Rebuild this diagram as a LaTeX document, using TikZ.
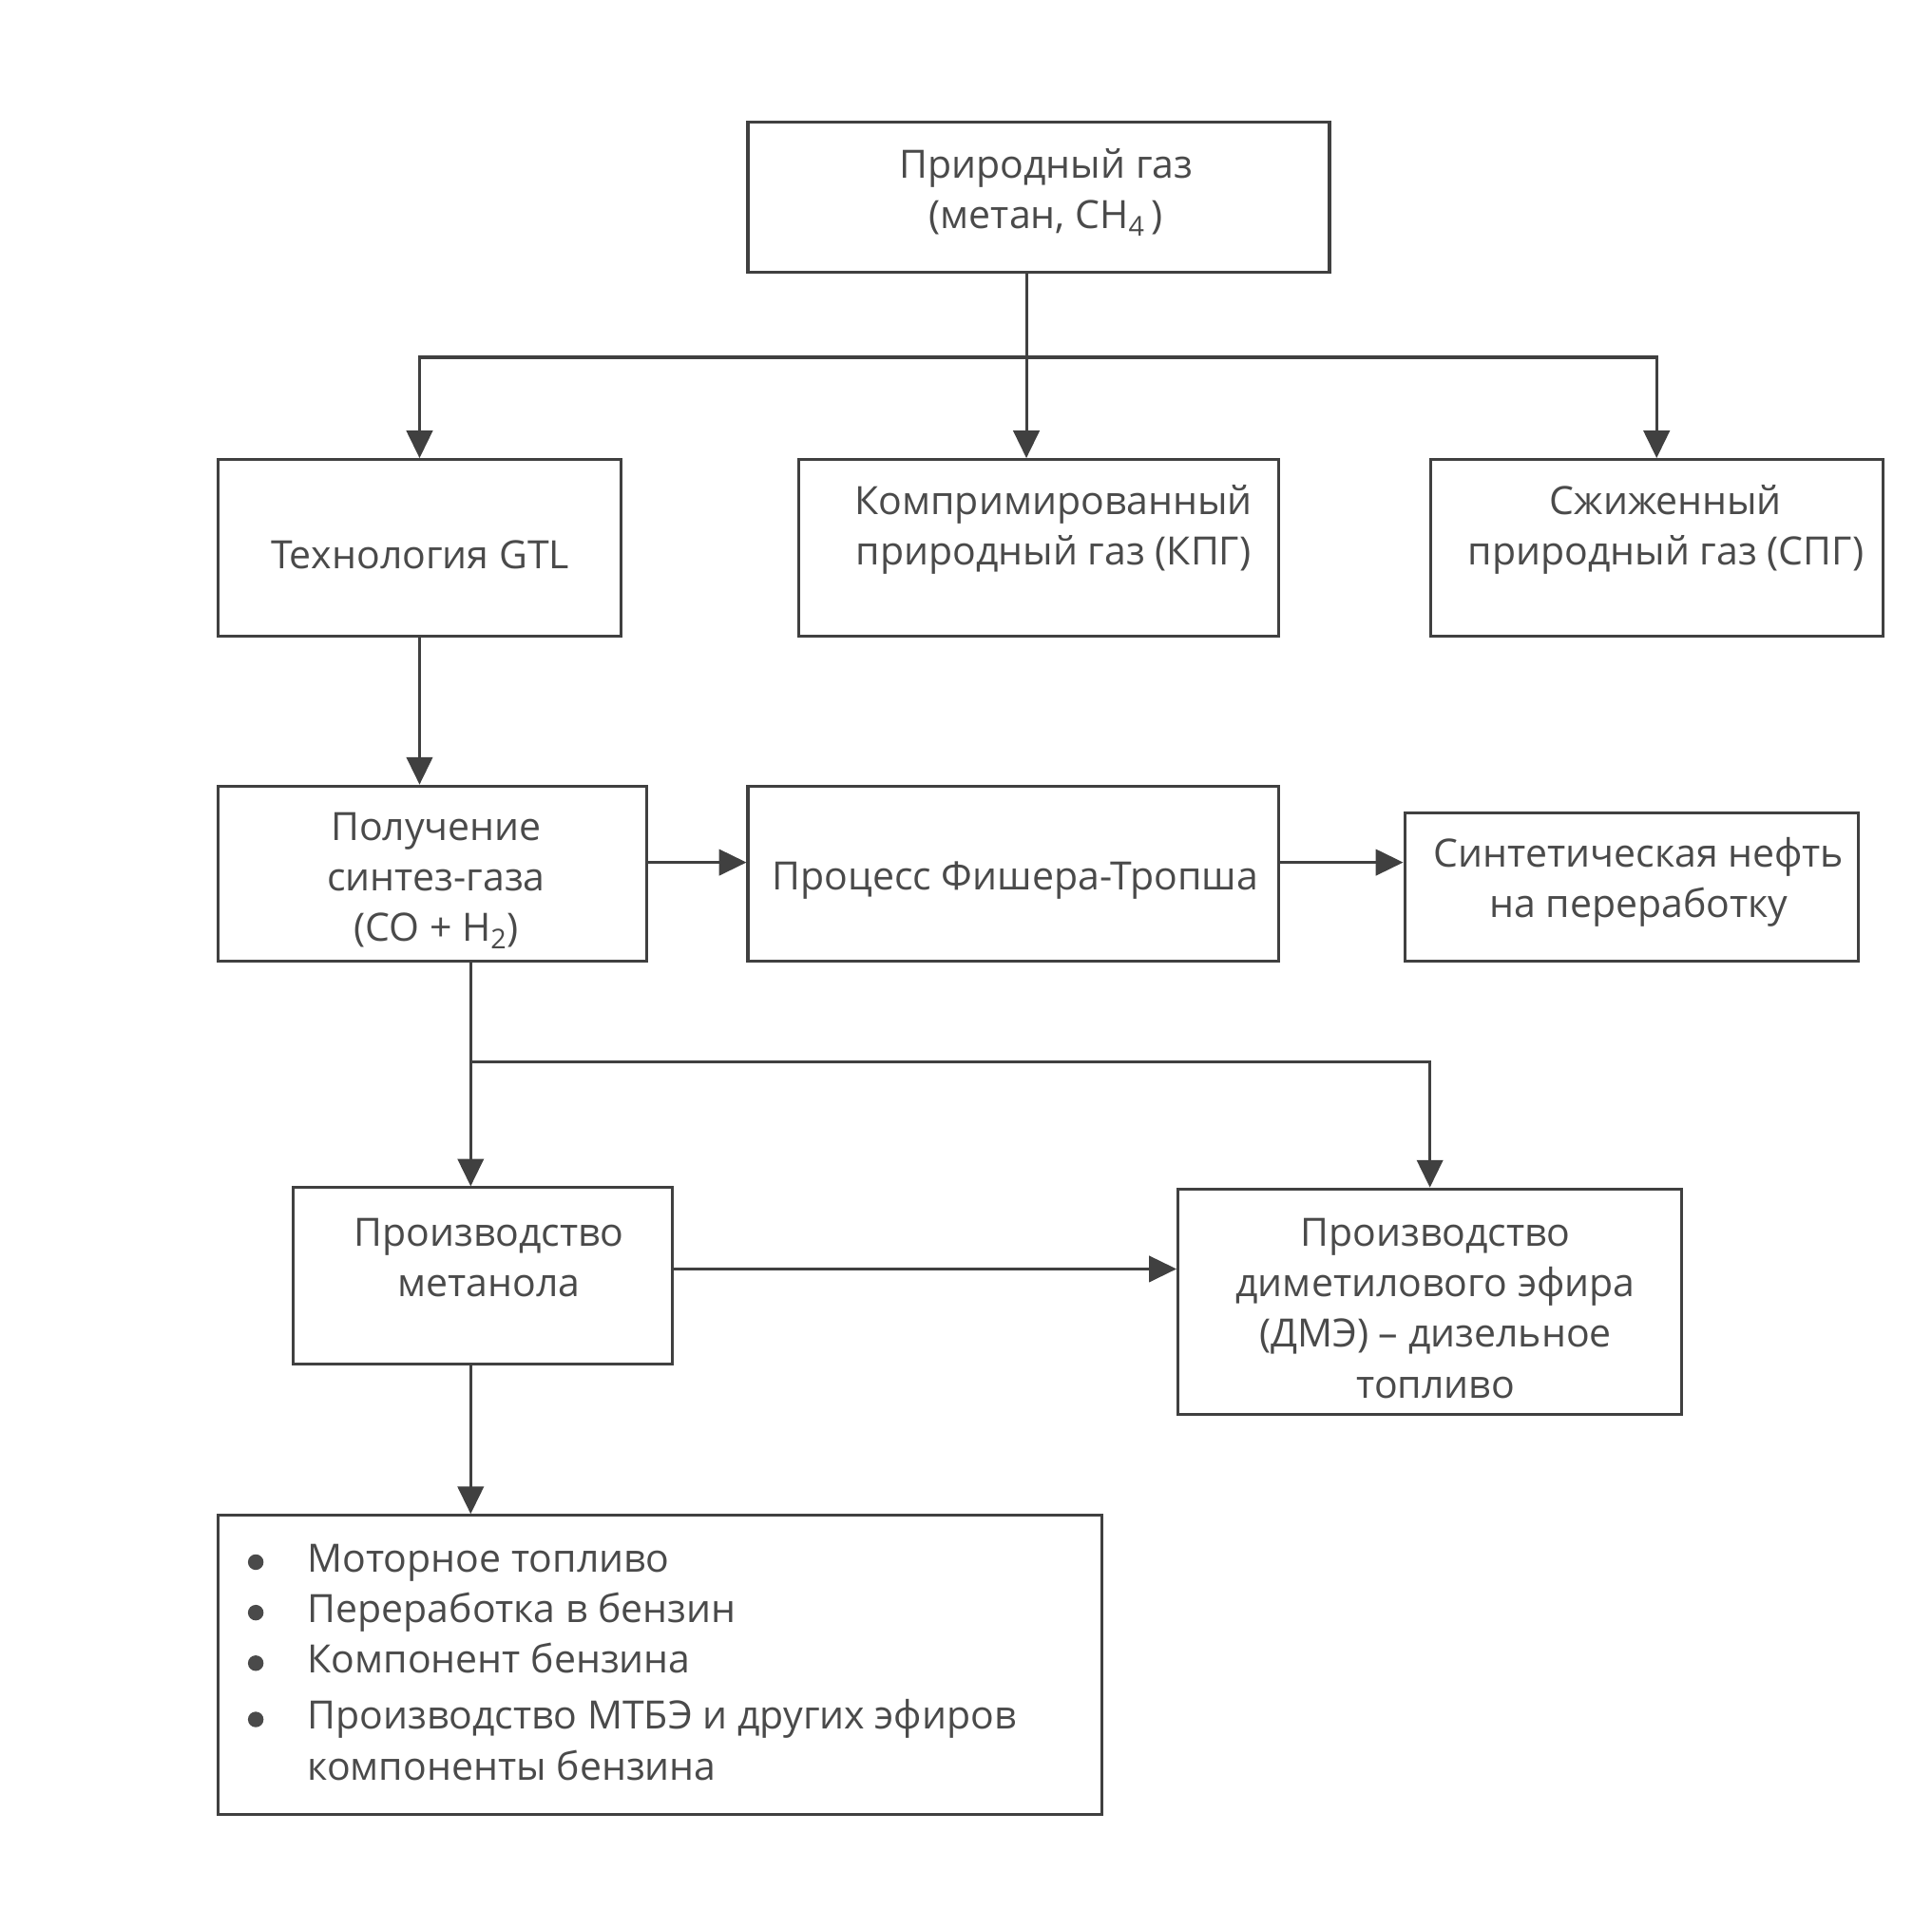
\documentclass[tikz,border=0pt]{standalone}
\usepackage{fontspec}
\setmainfont{Open Sans}
\usetikzlibrary{arrows.meta}
\definecolor{ink}{HTML}{4A4A4A}
\definecolor{lineink}{HTML}{404040}
\newcommand\bdot{\tikz[baseline={(0,-2.4mm)}]\fill[ink] (0,0) circle (1.9mm);}
\tikzset{
  box/.style={draw=lineink, line width=2pt, inner sep=0pt, fill=none},
  wh/.style 2 args={minimum width=#1*0.3mm, minimum height=#2*0.3mm},
  txt/.style={text=ink, align=center, inner sep=0pt, font=\fontsize{27}{35}\selectfont},
  arr/.style={draw=lineink, line width=2pt, -{Triangle[length=19pt,width=18pt]}},
  conn/.style={draw=lineink, line width=2pt}
}
\begin{document}
\begin{tikzpicture}[x=0.3mm, y=-0.3mm]
\useasboundingbox (0,0) rectangle (1568,1549);
\fill[white] (0,0) rectangle (1568,1549);

% boxes
\node[box, wh={472}{122}] (top) at (843,160) {};
\node[box, wh={327}{143}] (gtl) at (340.5,444.5) {};
\node[box, wh={390}{143}] (kpg) at (843,444.5) {};
\node[box, wh={367}{143}] (spg) at (1344.5,444.5) {};
\node[box, wh={348}{142}] (syn) at (351,709) {};
\node[box, wh={431}{142}] (ft) at (822.5,709) {};
\node[box, wh={368}{120}] (oil) at (1324,720) {};
\node[box, wh={308}{143}] (met) at (392,1035.5) {};
\node[box, wh={409}{183}] (dme) at (1160.5,1056.5) {};
\node[box, wh={717}{243}] (bul) at (535.5,1351.5) {};

% texts
\node[txt] (topt) at (849,156) {Природный газ\\(метан, CH\textsubscript{4}\,)};
\node[txt] (gtlt) at (341,450) {Технология GTL};
\node[txt] (kpgt) at (855,430) {Компримированный\\природный газ (КПГ)};
\node[txt] (spgt) at (1352,430) {Сжиженный\\природный газ (СПГ)};
\node[txt] (synt) at (354,715) {Получение\\синтез-газа\\(CO + H\textsubscript{2})};
\node[txt] (ftt) at (824,715) {Процесс Фишера-Тропша};
\node[txt] (oilt) at (1330,716) {Синтетическая нефть\\на переработку};
\node[txt] (mett) at (397,1021) {Производство\\метанола};
\node[txt] (dmet) at (1165,1062) {Производство\\диметилового эфира\\(ДМЭ) – дизельное\\топливо};
\node[txt, align=left, anchor=north west] (bult) at (201,1247) {%
\begin{tabular}{@{}l@{\hspace{10.7mm}}l@{}}
\bdot & Моторное топливо\\
\bdot & Переработка в бензин\\
\bdot & Компонент бензина\\[4pt]
\bdot & Производство МТБЭ и других эфиров\\
  & компоненты бензина
\end{tabular}};

% junctions
\coordinate (j1) at (833,290);
\coordinate (j2) at (382,862);
\coordinate (r1) at (0,700);
\coordinate (r2) at (0,1030);

% connectors
\draw[conn] (top.south -| j1) -- (j1);
\draw[arr] (j1) -- (kpg.north -| j1);
\draw[arr] (j1) -| (gtl.north);
\draw[arr] (j1) -| (spg.north);
\draw[arr] (gtl.south) -- (gtl.south |- syn.north);
\draw[arr] (syn.east |- r1) -- (ft.west |- r1);
\draw[arr] (ft.east |- r1) -- (oil.west |- r1);
\draw[arr] (syn.south -| j2) -- (met.north -| j2);
\draw[arr] (j2) -| (dme.north);
\draw[arr] (met.east |- r2) -- (dme.west |- r2);
\draw[arr] (met.south -| j2) -- (bul.north -| j2);
\end{tikzpicture}
\end{document}
